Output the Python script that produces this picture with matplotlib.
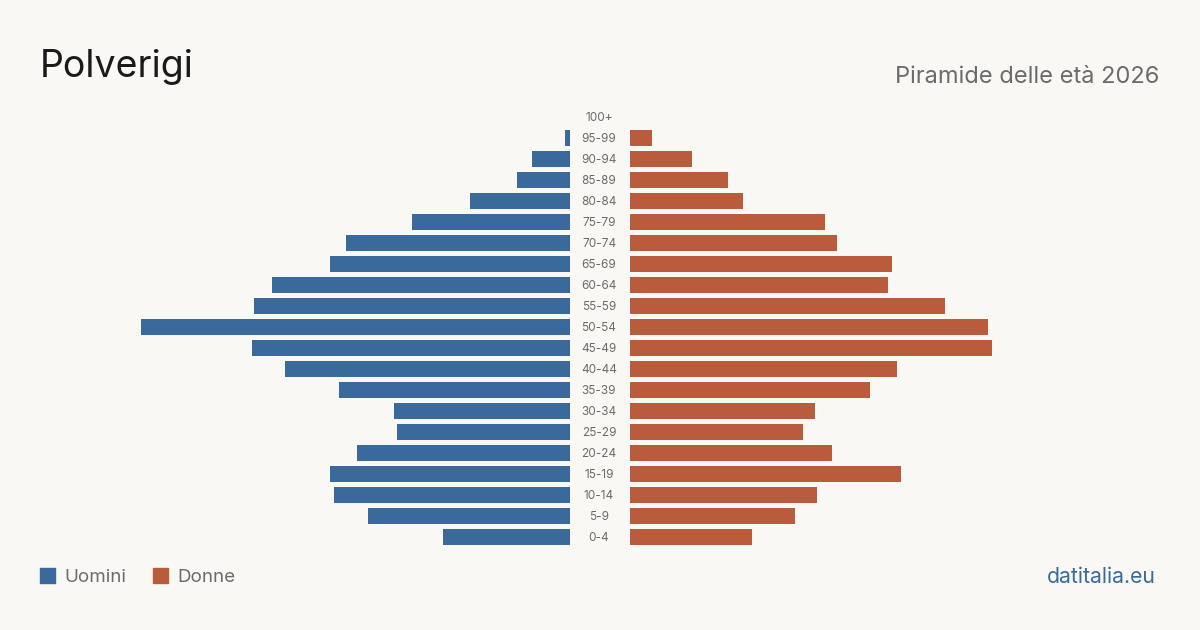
import matplotlib.pyplot as plt
from matplotlib.patches import Rectangle

# Dati (dal basso verso l'alto)
fasce = ['0-4', '5-9', '10-14', '15-19', '20-24', '25-29', '30-34', '35-39',
         '40-44', '45-49', '50-54', '55-59', '60-64', '65-69', '70-74',
         '75-79', '80-84', '85-89', '90-94', '95-99', '100+']
uomini = [70, 111, 130, 132, 117, 95, 97, 127, 157, 175, 236, 174, 164,
          132, 123, 87, 55, 29, 21, 3, 0]
donne = [67, 91, 103, 149, 111, 95, 102, 132, 147, 199, 197, 173, 142,
         144, 114, 107, 62, 54, 34, 12, 0]

col_u = '#3a6a9c'
col_d = '#b85c3c'
sfondo = '#f9f8f4'
grigio = '#6b6b6b'

plt.rcParams['font.family'] = ['Inter', 'DejaVu Sans']

W, H = 1200, 630
fig = plt.figure(figsize=(12, 6.3), dpi=100, facecolor=sfondo)

scala = 0.55  # persone per pixel
ax_w = 470
bottom = 1 - 547.5 / H
top = 1 - 106.5 / H
ax_u = fig.add_axes([(570 - ax_w) / W, bottom, ax_w / W, top - bottom])
ax_d = fig.add_axes([630 / W, bottom, ax_w / W, top - bottom])

y = list(range(len(fasce)))
ax_u.barh(y, uomini, height=0.8, color=col_u)
ax_d.barh(y, donne, height=0.8, color=col_d)

xmax = ax_w * scala
ax_u.set_xlim(xmax, 0)
ax_d.set_xlim(0, xmax)
for ax in (ax_u, ax_d):
    ax.set_ylim(-0.5, len(fasce) - 0.5)
    ax.axis('off')

# etichette delle fasce al centro
for i, f in enumerate(fasce):
    yy = 1 - (538 - i * 21) / H
    fig.text(599 / W, yy, f, ha='center', va='center', fontsize=8.5, color=grigio)

fig.text(40 / W, 1 - 67 / H, 'Polverigi', fontsize=27, color='#1a1a1a',
         ha='left', va='center')
fig.text(1159 / W, 1 - 77 / H, 'Piramide delle età 2026', fontsize=17,
         color=grigio, ha='right', va='center')

# legenda
for x0, c, lab in [(40, col_u, 'Uomini'), (153, col_d, 'Donne')]:
    fig.add_artist(Rectangle((x0 / W, 1 - 583 / H), 15 / W, 15 / H,
                             transform=fig.transFigure, color=c))
    fig.text((x0 + 24) / W, 1 - 577.5 / H, lab, fontsize=13.5, color=grigio,
             ha='left', va='center')

fig.text(1156 / W, 1 - 577 / H, 'datitalia.eu', fontsize=15.3, color='#3a6a9c',
         ha='right', va='center')

fig.savefig('out.png', dpi=100, facecolor=sfondo)
